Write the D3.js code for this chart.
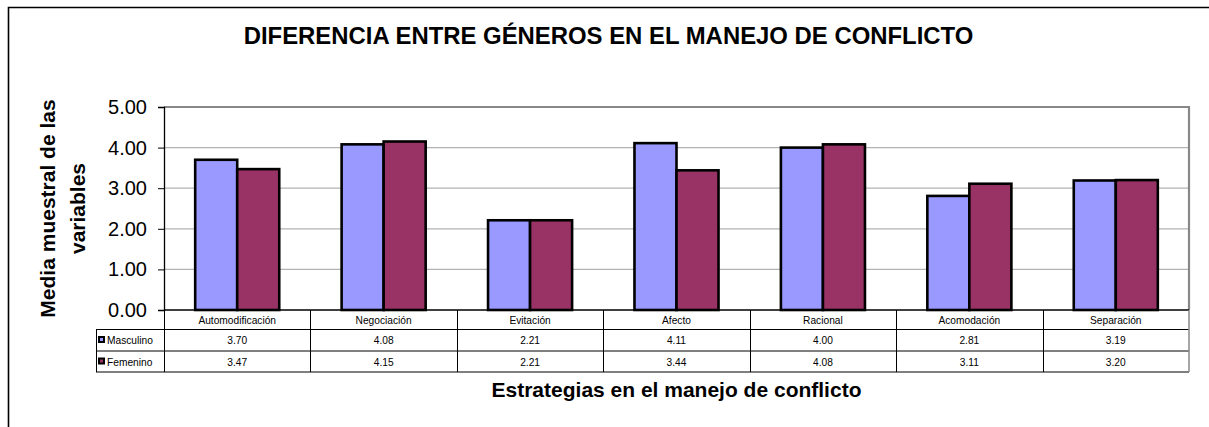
<!DOCTYPE html>
<html><head><meta charset="utf-8">
<script src="https://cdn.jsdelivr.net/npm/d3@7"></script>
<style>html,body{margin:0;background:#fff;overflow:hidden;}svg{display:block;font-family:Arial,"Liberation Sans",sans-serif;}</style>
</head><body>
<script>
const categories = ["Automodificación","Negociación","Evitación","Afecto","Racional","Acomodación","Separación"];
const seriesNames = ["Masculino","Femenino"];
const masculino = [3.70,4.08,2.21,4.11,4.00,2.81,3.19];
const femenino = [3.47,4.15,2.21,3.44,4.08,3.11,3.20];
const yTicks = [0,1,2,3,4,5];
const colors = ["#9999FF","#993366"];
const title = "DIFERENCIA ENTRE GÉNEROS EN EL MANEJO DE CONFLICTO";
const yTitle = ["Media muestral de las","variables"];
const xTitle = "Estrategias en el manejo de conflicto";

const W=1209,H=427;
const svg=d3.select("body").append("svg").attr("width",W).attr("height",H);
svg.append("rect").attr("width",W).attr("height",H).attr("fill","#fff");
// outer frame (only top and left visible)
svg.append("path").attr("d",`M8.5,${H}V7.5H${W}`).attr("fill","none").attr("stroke","#000").attr("stroke-width",1.6);

const L=164,R=1189,T=107,B=310;
const x=d3.scaleBand().domain(categories).range([L,R]).paddingInner(0).paddingOuter(0);
const y=d3.scaleLinear().domain([0,5]).range([B,T]);
const bw=x.bandwidth()*0.287;
const inner=d3.scaleBand().domain(seriesNames).range([x.bandwidth()/2-bw,x.bandwidth()/2+bw]);

// gridlines
svg.append("g").selectAll("line").data(yTicks.filter(d=>d>0)).join("line")
  .attr("x1",L).attr("x2",R).attr("y1",d=>y(d)).attr("y2",d=>y(d))
  .attr("stroke","#b3b3b3").attr("stroke-width",1.3);
// plot border top/right gray
svg.append("path").attr("d",`M${L},${T}H${R}V${B}`).attr("fill","none").attr("stroke","#888").attr("stroke-width",2.2);

// bars
const data=[masculino,femenino];
categories.forEach((c,i)=>{
  seriesNames.forEach((s,j)=>{
    const v=data[j][i];
    svg.append("rect").attr("x",x(c)+inner(s)).attr("y",y(v)).attr("width",inner.bandwidth()).attr("height",y(0)-y(v))
      .attr("fill",colors[j]).attr("stroke","#000").attr("stroke-width",2.6);
  });
});

// y axis
const ya=svg.append("g").attr("transform",`translate(${L},0)`)
  .call(d3.axisLeft(y).tickValues(yTicks).tickFormat(d3.format(".2f")).tickSize(6).tickPadding(11));
ya.select(".domain").attr("stroke","#000").attr("stroke-width",1.3);
ya.selectAll(".tick line").attr("stroke","#000");
ya.selectAll("text").attr("font-size",20).attr("fill","#000").attr("font-family","Arial, Liberation Sans, sans-serif");

// table
const tab=svg.append("g");
tab.append("line").attr("x1",L).attr("x2",R).attr("y1",B).attr("y2",B).attr("stroke","#000").attr("stroke-width",1.3);
[329.5,351,372].forEach(yy=>tab.append("line").attr("x1",96).attr("x2",R).attr("y1",yy).attr("y2",yy).attr("stroke","#000").attr("stroke-width",1));
tab.append("line").attr("x1",96.5).attr("x2",96.5).attr("y1",329.5).attr("y2",372).attr("stroke","#000");
categories.forEach(c=>tab.append("line").attr("x1",Math.round(x(c))+0.5).attr("x2",Math.round(x(c))+0.5).attr("y1",B).attr("y2",372).attr("stroke","#000"));
tab.append("line").attr("x1",R).attr("x2",R).attr("y1",B).attr("y2",372).attr("stroke","#888").attr("stroke-width",1.5);
tab.selectAll("text.cat").data(categories).join("text").attr("class","cat")
  .attr("x",d=>x(d)+x.bandwidth()/2).attr("y",323.5).attr("text-anchor","middle").attr("font-size",10.2).attr("fill","#000").text(d=>d);
data.forEach((arr,j)=>{
  const yy=j===0?344:365.5;
  tab.selectAll("text.v"+j).data(arr).join("text").attr("class","v"+j)
    .attr("x",(d,i)=>x(categories[i])+x.bandwidth()/2).attr("y",yy).attr("text-anchor","middle").attr("font-size",10.2).attr("fill","#000")
    .text(d=>d3.format(".2f")(d));
  tab.append("rect").attr("x",98).attr("y",yy-8).attr("width",7).attr("height",7).attr("fill","#000");
  tab.append("rect").attr("x",100).attr("y",yy-6).attr("width",3).attr("height",3).attr("fill",colors[j]);
  tab.append("text").attr("x",107).attr("y",yy).attr("font-size",10.2).attr("fill","#000").text(seriesNames[j]);
});

// titles
svg.append("text").attr("x",608.5).attr("y",44.3).attr("text-anchor","middle").attr("font-size",23.9).attr("font-weight","bold").text(title);
svg.append("text").attr("x",(L+R)/2).attr("y",396.7).attr("text-anchor","middle").attr("font-size",21).attr("font-weight","bold").text(xTitle);
const yt=svg.append("text").attr("transform",`translate(55,${(T+B)/2}) rotate(-90)`).attr("text-anchor","middle").attr("font-size",21).attr("font-weight","bold");
yt.append("tspan").attr("x",0).attr("dy",0).text(yTitle[0]);
yt.append("tspan").attr("x",0).attr("dy",30).text(yTitle[1]);
</script>
</body></html>
